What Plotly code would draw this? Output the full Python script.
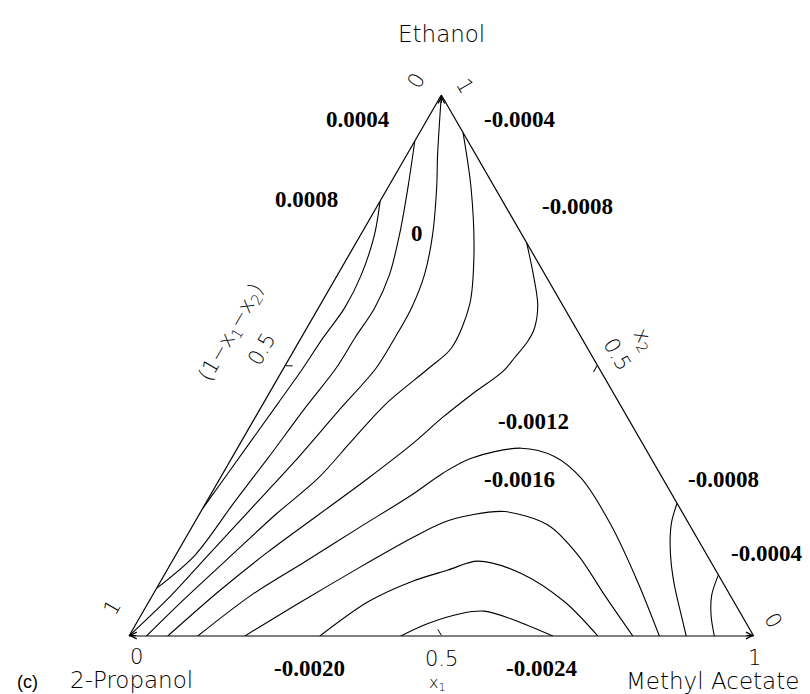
import plotly.graph_objects as go

W, H = 810, 694

# ---- contour data: x1 = Methyl Acetate, x2 = Ethanol ----
lev_p0008_x1 = [0, 0.022, 0.038, 0.042, 0.035, 0.031, 0.0235, 0.008, 0]
lev_p0008_x2 = [0.804, 0.742, 0.668, 0.6065, 0.551, 0.4954, 0.4306, 0.3009, 0.236]

lev_p0004_x1 = [0, 0.032, 0.062, 0.083, 0.090, 0.086, 0.084, 0.071, 0.058, 0.045, 0.031, 0]
lev_p0004_x2 = [0.915, 0.829, 0.742, 0.668, 0.6065, 0.551, 0.4954, 0.4213, 0.3287, 0.2485, 0.1496, 0.088]

lev_0_x1 = [0, 0.049, 0.078, 0.115, 0.139, 0.149, 0.150, 0.148, 0.127, 0.104, 0.078, 0.052, 0.028, 0]
lev_0_x2 = [1, 0.890, 0.829, 0.742, 0.668, 0.6065, 0.551, 0.4954, 0.4152, 0.3226, 0.2361, 0.1496, 0.0694, 0]

lev_m0004_x1 = [0.0694, 0.133, 0.1996, 0.239, 0.250, 0.2325, 0.196, 0.176, 0.157, 0.122, 0.087, 0.055, 0.028]
lev_m0004_x2 = [0.9306, 0.829, 0.7052, 0.6126, 0.5324, 0.4954, 0.4274, 0.3596, 0.2917, 0.2237, 0.1435, 0.0694, 0]

lev_m0004b_x1 = [0.887, 0.895, 0.9125, 0.937]
lev_m0004b_x2 = [0.113, 0.0756, 0.0385, 0]

lev_m0008_x1 = [0.273, 0.309, 0.348, 0.3645, 0.366, 0.360, 0.354, 0.325, 0.300, 0.275, 0.237, 0.191, 0.145, 0.102, 0.062]
lev_m0008_x2 = [0.727, 0.6744, 0.6126, 0.5694, 0.5448, 0.5139, 0.4892, 0.446, 0.404, 0.3533, 0.2917, 0.2237, 0.1559, 0.0818, 0]

lev_m0008b_x1 = [0.7546, 0.763, 0.776, 0.799, 0.826, 0.856, 0.892]
lev_m0008b_x2 = [0.2454, 0.2115, 0.1806, 0.1374, 0.0941, 0.0509, 0]

lev_m0012_x1 = [0.110, 0.158, 0.213, 0.267, 0.322, 0.352, 0.3835, 0.454, 0.515, 0.578, 0.669, 0.764, 0.849]
lev_m0012_x2 = [0, 0.0756, 0.1374, 0.199, 0.2607, 0.301, 0.3287, 0.3472, 0.3319, 0.2917, 0.2052, 0.1004, 0]

lev_m0016_x1 = [0.1855, 0.244, 0.304, 0.3616, 0.398, 0.436, 0.486, 0.568, 0.644, 0.7235, 0.8065]
lev_m0016_x2 = [0, 0.0633, 0.125, 0.1806, 0.21, 0.2237, 0.23, 0.2052, 0.1496, 0.0756, 0]

lev_m0020_x1 = [0.3055, 0.351, 0.4017, 0.4497, 0.489, 0.570, 0.6656, 0.7505]
lev_m0020_x2 = [0, 0.0633, 0.1004, 0.1219, 0.1385, 0.1157, 0.0633, 0]

lev_m0024_x1 = [0.435, 0.467, 0.511, 0.546, 0.6026, 0.6786]
lev_m0024_x2 = [0, 0.0231, 0.0417, 0.0459, 0.0293, 0]

contour_lines = [
    (lev_p0008_x1, lev_p0008_x2), (lev_p0004_x1, lev_p0004_x2), (lev_0_x1, lev_0_x2),
    (lev_m0004_x1, lev_m0004_x2), (lev_m0004b_x1, lev_m0004b_x2),
    (lev_m0008_x1, lev_m0008_x2), (lev_m0008b_x1, lev_m0008b_x2),
    (lev_m0012_x1, lev_m0012_x2), (lev_m0016_x1, lev_m0016_x2),
    (lev_m0020_x1, lev_m0020_x2), (lev_m0024_x1, lev_m0024_x2),
]

# contour level labels
level_labels = ["0.0004", "0.0008", "0", "-0.0004", "-0.0008", "-0.0012",
                "-0.0016", "-0.0008", "-0.0004", "-0.0020", "-0.0024"]
# component names
comp_top = "Ethanol"
comp_left = "2-Propanol"
comp_right = "Methyl Acetate"
panel_tag = "(c)"

# ---- layout helpers (pixel -> paper) ----
def px(x):
    return x / W

def py(y):
    return 1 - y / H

label_pos = [(350, 111), (298.7, 191.7), (409, 225.7), (511.7, 111.3), (569, 198),
             (525.5, 413.3), (511, 471.7), (715, 471.7), (758.3, 545.8),
             (301.5, 660), (533.5, 660)]

fig = go.Figure()
for x1s, x2s in contour_lines:
    a = list(x2s)
    c = list(x1s)
    b = [max(0.0, 1 - p - q) for p, q in zip(x1s, x2s)]
    fig.add_trace(go.Scatterternary(
        a=a, b=b, c=c, mode="lines",
        line=dict(color="black", width=1.1, shape="spline", smoothing=0.9),
        hoverinfo="skip", showlegend=False))

serif_bold = dict(family="Liberation Serif, Times New Roman, serif", size=23, color="black", weight="bold")
thin = dict(family="DejaVu Sans, sans-serif", size=21, color="black", weight=200)
thin_big = dict(family="DejaVu Sans, sans-serif", size=23, color="black", weight=200)

ann = []
for txt, (x, y) in zip(level_labels, label_pos):
    ann.append(dict(text=txt, x=px(x), y=py(y), showarrow=False, font=serif_bold))

tick_texts = [
    ("0", 128, 649, 0), ("0.5", 434, 651, 0), ("1", 746, 650, 0),
    ("0", 408.3, 73.3, -60), ("0.5", 253, 341.5, -60), ("1", 104, 600, -60),
    ("1", 456.7, 78.3, 60), ("0.5", 609, 345.7, 60), ("0", 765, 611.7, 60),
]
for txt, x, y, ang in tick_texts:
    ann.append(dict(text=txt, x=px(x), y=py(y), textangle=ang, showarrow=False, font=thin))

ann += [
    dict(text="(1−x<sub>1</sub>−x<sub>2</sub>)", x=px(224), y=py(324), textangle=-60,
         showarrow=False, font=thin),
    dict(text="x<sub>2</sub>", x=px(636), y=py(331.7), textangle=60, showarrow=False, font=thin),
    dict(text="x<sub>1</sub>", x=px(429), y=py(675), showarrow=False, font=dict(thin, size=16)),
    dict(text=comp_top, x=px(433), y=py(26), showarrow=False, font=thin_big),
    dict(text=comp_right, x=px(704), y=py(673), showarrow=False, font=thin_big),
    dict(text=comp_left, x=px(123), y=py(672), showarrow=False, font=thin_big),
    dict(text=panel_tag, x=px(19), y=py(674), showarrow=False,
         font=dict(family="Liberation Sans, Arial, sans-serif", size=18, color="black")),
]

for a_ in ann:
    a_.update(xref="paper", yref="paper", xanchor="center", yanchor="middle")

# arrowheads at the triangle vertices
for (x, y, dx, dy) in [(433.4, 87.5, 0, 9), (120.7, 627.5, 9, 0), (746, 627.5, -9, 0)]:
    ann.append(dict(text="", x=px(x), y=py(y), xref="paper", yref="paper", showarrow=True,
                    ax=dx, ay=dy, arrowhead=5, arrowsize=1.3, arrowwidth=1, arrowcolor="black",
                    standoff=0))

axis_style = dict(showgrid=False, linecolor="black", linewidth=1.2, ticks="inside", ticklen=7,
                  tickcolor="black", tickmode="array", tickvals=[0.5], showticklabels=False,
                  title=dict(text=""))

fig.update_layout(
    width=W, height=H, margin=dict(l=0, r=0, t=0, b=0),
    paper_bgcolor="white", plot_bgcolor="white", showlegend=False,
    ternary=dict(domain=dict(x=[0.135, 0.935], y=[0.0951, 0.8746]), bgcolor="white", sum=1,
                 aaxis=axis_style, baxis=axis_style, caxis=axis_style),
    annotations=ann,
)

fig.write_html("out.html")
